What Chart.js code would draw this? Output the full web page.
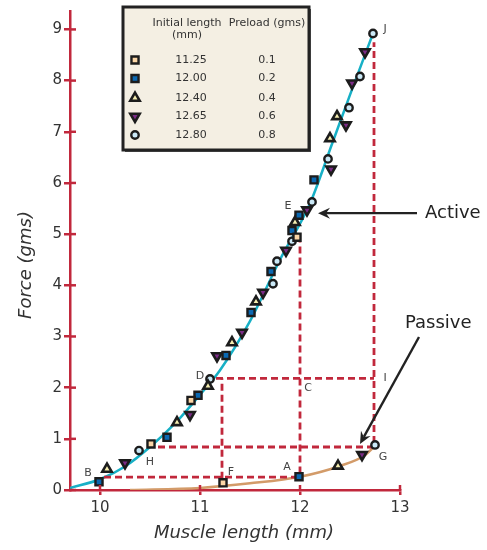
<!DOCTYPE html>
<html>
<head>
<meta charset="utf-8">
<script src="https://cdn.jsdelivr.net/npm/chart.js@4"></script>
<style>
html, body { margin: 0; padding: 0; background: #fff; }
</style>
</head>
<body>
<canvas id="chart-area" width="487" height="550"></canvas>
<script>
// axis ticks
var xTicks = [10, 11, 12, 13];
var yTicks = [0, 1, 2, 3, 4, 5, 6, 7, 8, 9];

// legend table
var initialLengths = ['11.25', '12.00', '12.40', '12.65', '12.80'];
var preloads = ['0.1', '0.2', '0.4', '0.6', '0.8'];

// [muscle length (mm), force (gms)] per initial length
var pts1125 = [[10.51, 0.90], [10.91, 1.75], [11.23, 0.14], [11.97, 4.94]];
var pts1200 = [[9.99, 0.16], [10.67, 1.03], [10.98, 1.85], [11.26, 2.63], [11.51, 3.47],
               [11.71, 4.27], [11.92, 5.07], [11.99, 5.37], [12.14, 6.06], [11.99, 0.26]];
var pts1240 = [[10.07, 0.41], [10.77, 1.32], [11.08, 2.03], [11.32, 2.88], [11.56, 3.68],
               [11.95, 5.23], [12.30, 6.87], [12.37, 7.30], [12.38, 0.47]];
var pts1265 = [[10.25, 0.53], [10.90, 1.47], [11.17, 2.62], [11.42, 3.08], [11.63, 3.86],
               [11.86, 4.68], [12.07, 5.47], [12.31, 6.27], [12.46, 7.13], [12.52, 7.95],
               [12.65, 8.56], [12.62, 0.69]];
var pts1280 = [[10.39, 0.77], [11.10, 2.17], [11.73, 4.03], [11.77, 4.47], [11.92, 4.86],
               [12.12, 5.63], [12.28, 6.47], [12.49, 7.47], [12.60, 8.08], [12.73, 8.92],
               [12.75, 0.88]];

// fitted curves
var activeCurve = [[9.7, 0.04], [10.0, 0.21], [10.25, 0.46], [10.5, 0.84], [10.75, 1.3],
                   [11.0, 1.86], [11.2, 2.34], [11.5, 3.3], [11.8, 4.5], [12.1, 5.6],
                   [12.32, 6.76], [12.5, 7.72], [12.73, 8.92]];
var passiveCurve = [[10.3, 0.0], [11.0, 0.04], [11.5, 0.13], [12.0, 0.26], [12.4, 0.47],
                    [12.65, 0.68], [12.75, 0.86]];

// dashed construction lines
var guides = [
    [[10.04, 0.25], [11.99, 0.25]],
    [[11.22, 0.22], [11.22, 2.18]],
    [[10.58, 0.84], [12.74, 0.84]],
    [[11.16, 2.18], [12.74, 2.18]],
    [[12.0, 0.32], [12.0, 4.85]],
    [[12.74, 0.92], [12.74, 8.75]]
];

// point letters [text, x, y]
var letters = [['B', 9.88, 0.33], ['H', 10.50, 0.55], ['D', 11.0, 2.22], ['F', 11.31, 0.35],
               ['E', 11.88, 5.54], ['A', 11.87, 0.45], ['C', 12.08, 1.99], ['I', 12.85, 2.19],
               ['G', 12.83, 0.64], ['J', 12.85, 9.0]];

var red = '#c1283c';
var ink = '#1c1c1c';

var markerStyles = [
    {pointStyle: 'rect', bg: '#fbd6a6', r: 5.0, rot: 0, bw: 2.4},
    {pointStyle: 'rect', bg: '#0a68b2', r: 5.0, rot: 0, bw: 2.4},
    {pointStyle: 'triangle', bg: '#f6eeb0', r: 5.4, rot: 0, bw: 2.6},
    {pointStyle: 'triangle', bg: '#7b2b86', r: 5.4, rot: 180, bw: 2.6},
    {pointStyle: 'circle', bg: '#cbe9f7', r: 3.7, rot: 0, bw: 2.4}
];
var allPts = [pts1125, pts1200, pts1240, pts1265, pts1280];

function xy(arr) {
    return arr.map(function(p) { return {x: p[0], y: p[1]}; });
}

var datasets = [];
allPts.forEach(function(p, i) {
    var s = markerStyles[i];
    datasets.push({
        data: xy(p),
        showLine: false,
        pointStyle: s.pointStyle,
        pointRotation: s.rot,
        pointRadius: s.r,
        pointHoverRadius: s.r,
        pointBackgroundColor: s.bg,
        pointBorderColor: ink,
        pointBorderWidth: s.bw,
        order: 0
    });
});
guides.forEach(function(g) {
    datasets.push({
        data: xy(g),
        showLine: true,
        borderColor: red,
        borderWidth: 2.8,
        borderDash: [7, 4],
        pointRadius: 0,
        order: 1
    });
});
datasets.push({
    data: xy(activeCurve),
    showLine: true,
    borderColor: '#17b0c6',
    borderWidth: 2.5,
    cubicInterpolationMode: 'monotone',
    pointRadius: 0,
    order: 2
});
datasets.push({
    data: xy(passiveCurve),
    showLine: true,
    borderColor: '#d39b69',
    borderWidth: 2.5,
    cubicInterpolationMode: 'monotone',
    pointRadius: 0,
    order: 2
});

function drawMarker(ctx, s, x, y) {
    ctx.save();
    ctx.fillStyle = s.bg;
    ctx.strokeStyle = ink;
    ctx.lineWidth = s.bw;
    ctx.beginPath();
    if (s.pointStyle === 'rect') {
        var h = s.r * Math.SQRT1_2;
        ctx.rect(x - h, y - h, 2 * h, 2 * h);
    } else if (s.pointStyle === 'circle') {
        ctx.arc(x, y, s.r, 0, Math.PI * 2);
    } else {
        var a = s.rot * Math.PI / 180;
        for (var k = 0; k < 3; k++) {
            var t = a + k * 2 * Math.PI / 3;
            var px = x + Math.sin(t) * s.r, py = y - Math.cos(t) * s.r;
            if (k === 0) ctx.moveTo(px, py); else ctx.lineTo(px, py);
        }
        ctx.closePath();
    }
    ctx.fill();
    ctx.stroke();
    ctx.restore();
}

function arrow(ctx, x1, y1, x2, y2) {
    var ang = Math.atan2(y2 - y1, x2 - x1);
    var len = 12, half = 5.5, notch = 8;
    ctx.save();
    ctx.strokeStyle = '#222';
    ctx.fillStyle = '#222';
    ctx.lineWidth = 2.4;
    ctx.beginPath();
    ctx.moveTo(x1, y1);
    ctx.lineTo(x2 - Math.cos(ang) * notch, y2 - Math.sin(ang) * notch);
    ctx.stroke();
    ctx.translate(x2, y2);
    ctx.rotate(ang);
    ctx.beginPath();
    ctx.moveTo(0, 0);
    ctx.lineTo(-len, -half);
    ctx.lineTo(-notch, 0);
    ctx.lineTo(-len, half);
    ctx.closePath();
    ctx.fill();
    ctx.restore();
}

var extras = {
    id: 'extras',
    afterDraw: function(chart) {
        var ctx = chart.ctx;
        var xs = chart.scales.x, ys = chart.scales.y;
        var ax = xs.left, ay = ys.bottom;

        // inner halves of tick marks
        ctx.save();
        ctx.strokeStyle = red;
        ctx.lineWidth = 2.5;
        ys.ticks.forEach(function(t) {
            var py = ys.getPixelForValue(t.value);
            ctx.beginPath(); ctx.moveTo(ax, py); ctx.lineTo(ax + 6, py); ctx.stroke();
        });
        xs.ticks.forEach(function(t) {
            var px = xs.getPixelForValue(t.value);
            ctx.beginPath(); ctx.moveTo(px, ay); ctx.lineTo(px, ay - 5); ctx.stroke();
        });
        ctx.restore();

        // axis titles
        ctx.save();
        ctx.fillStyle = '#333';
        ctx.font = 'italic 18px "DejaVu Sans"';
        ctx.textAlign = 'center';
        ctx.textBaseline = 'middle';
        ctx.fillText('Muscle length (mm)', 244, 533);
        ctx.translate(26, 265);
        ctx.rotate(-Math.PI / 2);
        ctx.fillText('Force (gms)', 0, 0);
        ctx.restore();

        // point letters
        ctx.save();
        ctx.fillStyle = '#444';
        ctx.font = '11px "DejaVu Sans"';
        ctx.textAlign = 'center';
        ctx.textBaseline = 'middle';
        letters.forEach(function(l) {
            ctx.fillText(l[0], xs.getPixelForValue(l[1]), ys.getPixelForValue(l[2]));
        });
        ctx.restore();

        // Active / Passive arrows
        arrow(ctx, xs.getPixelForValue(13.17), ys.getPixelForValue(5.41),
                   xs.getPixelForValue(12.18), ys.getPixelForValue(5.41));
        arrow(ctx, xs.getPixelForValue(13.19), ys.getPixelForValue(2.99),
                   xs.getPixelForValue(12.60), ys.getPixelForValue(0.90));
        ctx.save();
        ctx.fillStyle = '#222';
        ctx.font = '18px "DejaVu Sans"';
        ctx.textBaseline = 'middle';
        ctx.textAlign = 'left';
        ctx.fillText('Active', xs.getPixelForValue(13.25), ys.getPixelForValue(5.41));
        ctx.fillText('Passive', xs.getPixelForValue(13.05), ys.getPixelForValue(3.26));
        ctx.restore();

        // legend table
        var bx = 123, by = 7, bw = 186, bh = 143;
        ctx.save();
        ctx.fillStyle = '#555';
        ctx.fillRect(bx + 2, by + 2, bw, bh);
        ctx.fillStyle = '#f4efe3';
        ctx.fillRect(bx, by, bw, bh);
        ctx.strokeStyle = '#222';
        ctx.lineWidth = 3;
        ctx.strokeRect(bx, by, bw, bh);
        ctx.fillStyle = '#333';
        ctx.font = '11px "DejaVu Sans"';
        ctx.textAlign = 'center';
        ctx.textBaseline = 'middle';
        ctx.fillText('Initial length', 187, 23);
        ctx.fillText('(mm)', 187, 35.5);
        ctx.fillText('Preload (gms)', 267, 23);
        var rows = [60, 78.5, 98, 116.5, 135];
        initialLengths.forEach(function(v, i) {
            drawMarker(ctx, markerStyles[i], 135, rows[i]);
            ctx.fillStyle = '#333';
            ctx.fillText(v, 191, rows[i]);
            ctx.fillText(preloads[i], 267, rows[i]);
        });
        ctx.restore();
    }
};

var tickFont = {family: 'DejaVu Sans', size: 15};

var config = {
    type: 'scatter',
    data: {datasets: datasets},
    options: {
        responsive: false,
        animation: false,
        events: [],
        layout: {padding: {top: 5, right: 87, left: 0, bottom: 0}},
        plugins: {legend: {display: false}, tooltip: {enabled: false}},
        scales: {
            x: {
                type: 'linear',
                min: 9.7,
                max: 13,
                ticks: {font: tickFont, color: '#333', padding: 4},
                afterBuildTicks: function(axis) {
                    axis.ticks = xTicks.map(function(v) { return {value: v}; });
                },
                afterFit: function(scale) { scale.height = 60; },
                grid: {drawOnChartArea: false, drawTicks: true, tickLength: 5, color: red, lineWidth: 2.5},
                border: {display: true, color: red, width: 2.5}
            },
            y: {
                type: 'linear',
                min: 0,
                max: 9.36,
                ticks: {font: tickFont, color: '#333', padding: 2},
                afterBuildTicks: function(axis) {
                    axis.ticks = yTicks.map(function(v) { return {value: v}; });
                },
                afterFit: function(scale) { scale.width = 70; },
                grid: {drawOnChartArea: false, drawTicks: true, tickLength: 6, color: red, lineWidth: 2.5},
                border: {display: true, color: red, width: 2.5}
            }
        }
    },
    plugins: [extras]
};

var ctx = document.getElementById('chart-area').getContext('2d');
var myChart = new Chart(ctx, config);
</script>
</body>
</html>
